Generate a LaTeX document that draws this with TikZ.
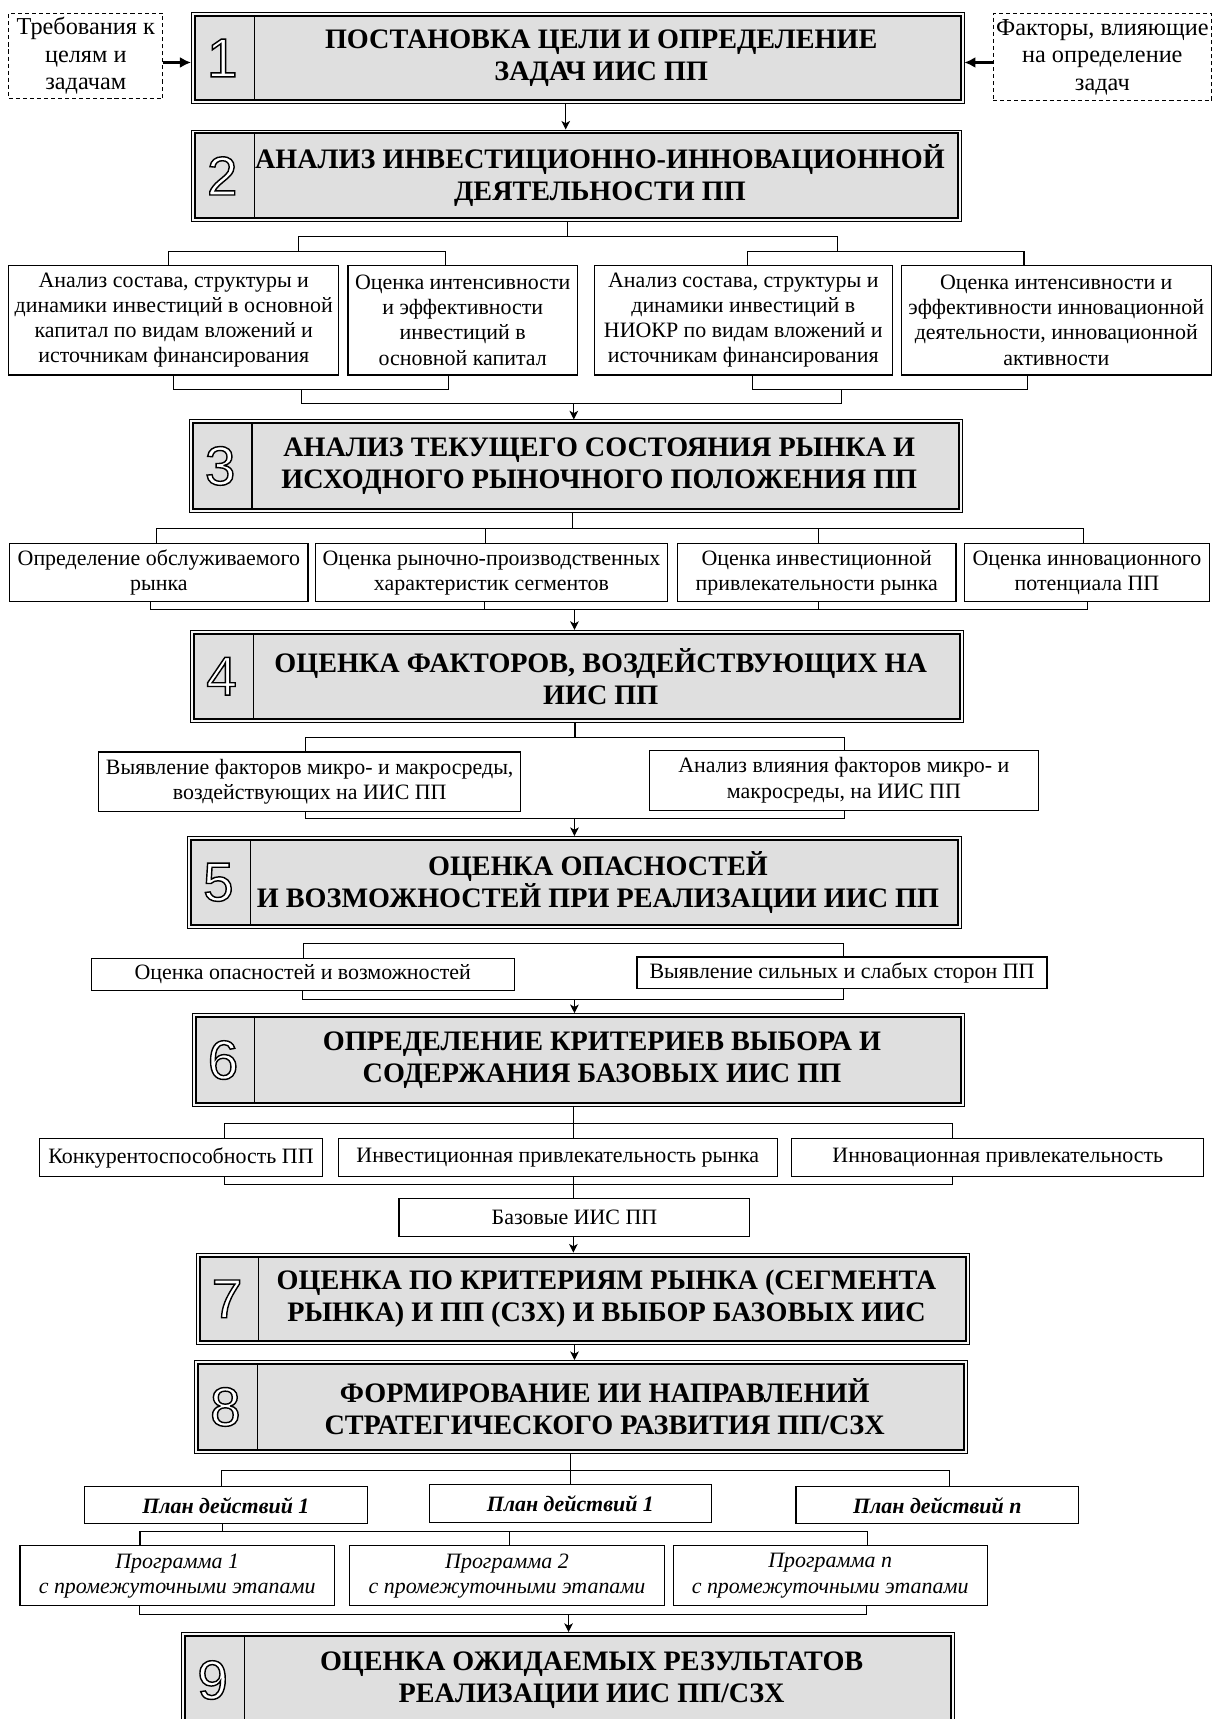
\documentclass[tikz,border=0pt]{standalone}
\usepackage{fontspec}
\setmainfont{Liberation Serif}
\newfontfamily\numfont{Liberation Sans}
\usetikzlibrary{arrows.meta}

\newcommand\outnum[1]{{\numfont\fontsize{35}{35}\selectfont\color{white}\special{pdf:literal direct 0 G 0.9 w 2 Tr}#1\special{pdf:literal direct 0 Tr}}}

\newcommand\bnode[6]{\node[#1, minimum width={(#5-#3)*0.7pt}, minimum height={(#6-#4)*0.7pt}] (#2) at ({(#3+#5)/2},{(#4+#6)/2})}

\newcommand\stage[7]{%
  \bnode{stagebox}{#1}{#2}{#3}{#4}{#5}{};
  \node[numlbl] (#1n) at ([xshift=20pt]#1.west) {\outnum{#6}};
  \node[ttl] (#1t) at ([xshift=15pt]#1.center) {#7};
}

\tikzset{
  conn/.style={line width=0.7pt},
  arr/.style={conn, -{Stealth[length=5.5pt,width=5.5pt,inset=1.5pt]}},
  sidearr/.style={line width=1.3pt, -{Latex[length=7pt,width=7pt]}},
  tbox/.style={draw, line width=0.75pt, fill=white, align=center, inner sep=0pt,
    font=\fontsize{14}{16.1}\selectfont},
  dbox/.style={tbox, dash pattern=on 2.6pt off 1.9pt, font=\fontsize{15.5}{17.6}\selectfont},
  stagebox/.style={draw, line width=0.6pt, fill=gray!6, inner sep=0pt,
    path picture={
      \filldraw[fill=gray!25, line width=1.3pt]
        ([shift={(2.2pt,2.2pt)}]path picture bounding box.south west) rectangle
        ([shift={(-2.2pt,-2.2pt)}]path picture bounding box.north east);
      \draw[line width=0.7pt]
        ([shift={(40pt,2.2pt)}]path picture bounding box.south west) --
        ([shift={(40pt,-2.2pt)}]path picture bounding box.north west);
    }},
  numlbl/.style={inner sep=0pt},
  ttl/.style={inner sep=0pt, align=center, font=\fontsize{18}{20.5}\selectfont\bfseries},
}

\begin{document}
\begin{tikzpicture}[x=0.7pt,y=-0.7pt]
\useasboundingbox (0,0) rectangle (1106,1568);
\clip (0,0) rectangle (1106,1568);

% ---------- stages ----------
\stage{S1}{174.6}{11.6}{879.3}{94.3}{1}{ПОСТАНОВКА ЦЕЛИ И ОПРЕДЕЛЕНИЕ\\ЗАДАЧ ИИС ПП}
\stage{S2}{174.6}{118.6}{876.9}{202.3}{2}{АНАЛИЗ ИНВЕСТИЦИОННО-ИННОВАЦИОННОЙ\\ДЕЯТЕЛЬНОСТИ ПП}
\stage{S3}{172.7}{383}{877.6}{467}{3}{АНАЛИЗ ТЕКУЩЕГО СОСТОЯНИЯ РЫНКА И\\ИСХОДНОГО РЫНОЧНОГО ПОЛОЖЕНИЯ ПП}
\stage{S4}{174}{575}{879}{658.6}{4}{ОЦЕНКА ФАКТОРОВ, ВОЗДЕЙСТВУЮЩИХ НА\\ИИС ПП}
\stage{S5}{171}{763}{877}{846.6}{5}{ОЦЕНКА ОПАСНОСТЕЙ\\И ВОЗМОЖНОСТЕЙ ПРИ РЕАЛИЗАЦИИ ИИС ПП}
\stage{S6}{175.3}{924.6}{880}{1009.3}{6}{ОПРЕДЕЛЕНИЕ КРИТЕРИЕВ ВЫБОРА И\\СОДЕРЖАНИЯ БАЗОВЫХ ИИС ПП}
\stage{S7}{179}{1143}{884.5}{1226.5}{7}{ОЦЕНКА ПО КРИТЕРИЯМ РЫНКА (СЕГМЕНТА\\РЫНКА) И ПП (СЗХ) И ВЫБОР БАЗОВЫХ ИИС}
\stage{S8}{177.4}{1241}{882.8}{1325.7}{8}{ФОРМИРОВАНИЕ ИИ НАПРАВЛЕНИЙ\\СТРАТЕГИЧЕСКОГО РАЗВИТИЯ ПП/СЗХ}
\stage{S9}{165.8}{1489}{870.6}{1576}{9}{ОЦЕНКА ОЖИДАЕМЫХ РЕЗУЛЬТАТОВ\\РЕАЛИЗАЦИИ ИИС ПП/СЗХ}

% ---------- side boxes ----------
\bnode{dbox}{L}{8}{12}{148.5}{90}{Требования к\\целям и\\задачам};
\bnode{dbox}{R}{906}{12}{1105}{92}{Факторы, влияющие\\на определение\\задач};

% ---------- row 2 ----------
\bnode{tbox}{A2}{8}{242}{309}{342}{Анализ состава, структуры и\\динамики инвестиций в основной\\капитал по видам вложений и\\источникам финансирования};
\bnode{tbox}{B2}{317.5}{242}{526.7}{342}{Оценка интенсивности\\и эффективности\\инвестиций в\\основной капитал};
\bnode{tbox}{C2}{542}{242}{814}{342}{Анализ состава, структуры и\\динамики инвестиций в\\НИОКР по видам вложений и\\источникам финансирования};
\bnode{tbox}{D2}{822}{242}{1105}{342}{Оценка интенсивности и\\эффективности инновационной\\деятельности, инновационной\\активности};

% ---------- row 3 ----------
\bnode{tbox}{A3}{8.8}{496}{281}{549}{Определение обслуживаемого\\рынка};
\bnode{tbox}{B3}{287.5}{496}{609}{549}{Оценка рыночно-производственных\\характеристик сегментов};
\bnode{tbox}{C3}{618}{496}{872}{549}{Оценка инвестиционной\\привлекательности рынка};
\bnode{tbox}{D3}{880}{496}{1103}{549}{Оценка инновационного\\потенциала ПП};

% ---------- row 4 ----------
\bnode{tbox}{A4}{90}{686}{475}{740}{Выявление факторов микро- и макросреды,\\воздействующих на ИИС ПП};
\bnode{tbox}{B4}{592.5}{684.5}{947}{739}{Анализ влияния факторов микро- и\\макросреды, на ИИС ПП};

% ---------- row 5 ----------
\bnode{tbox}{A5}{83.3}{874}{469}{903.5}{Оценка опасностей и возможностей};
\bnode{tbox}{B5}{581}{873}{955}{902}{Выявление сильных и слабых сторон ПП};

% ---------- row 6 ----------
\bnode{tbox}{A6}{36.3}{1038.7}{293.8}{1073}{Конкурентоспособность ПП};
\bnode{tbox}{B6}{308.6}{1038.7}{709}{1073}{Инвестиционная привлекательность рынка};
\bnode{tbox}{C6}{722.3}{1038.7}{1098}{1073}{Инновационная привлекательность};
\bnode{tbox}{Base}{364}{1093.5}{684}{1128}{Базовые ИИС ПП};

% ---------- row 8 ----------
\bnode{tbox}{P1}{77}{1356}{335}{1390}{\bfseries\itshape План действий 1};
\bnode{tbox}{P2}{391.5}{1354}{649}{1388.7}{\bfseries\itshape План действий 1};
\bnode{tbox}{Pn}{726}{1356}{984}{1390}{\bfseries\itshape План действий n};
\bnode{tbox}{G1}{18.3}{1410}{305}{1464.7}{\itshape Программа 1\\\itshape с промежуточными этапами};
\bnode{tbox}{G2}{319}{1410}{606}{1464.7}{\itshape Программа 2\\\itshape с промежуточными этапами};
\bnode{tbox}{Gn}{614}{1410}{900.5}{1464.7}{\itshape Программа n\\\itshape с промежуточными этапами};

% ---------- connectors ----------
\coordinate (ya) at (0,57);
\draw[sidearr] (L.east |- ya) -- (S1.west |- ya);
\draw[sidearr] (R.west |- ya) -- (S1.east |- ya);
\coordinate (g12) at (516,0);
\draw[arr] (S1.south -| g12) -- (S2.north -| g12);

% row 2 top
\coordinate (j2) at (518,216);
\coordinate (j2a) at (272,216);
\coordinate (j2b) at (764,216);
\coordinate (k2a) at (154,229);
\coordinate (k2b) at (406,229);
\coordinate (k2c) at (682,229);
\coordinate (k2d) at (934,229);
\draw[conn] (S2.south -| j2) -- (j2);
\draw[conn] (j2a |- k2a) -- (j2a) -- (j2b) -- (j2b |- k2c);
\draw[conn] (A2.north -| k2a) -- (k2a) -- (k2b) -- (B2.north -| k2b);
\draw[conn] (C2.north -| k2c) -- (k2c) -- (k2d) -- (D2.north -| k2d);
% row 2 bottom
\coordinate (m2a) at (158.6,355);
\coordinate (m2b) at (409,355);
\coordinate (m2c) at (686,355);
\coordinate (m2d) at (937,355);
\coordinate (n2a) at (275,368);
\coordinate (n2b) at (767.5,368);
\coordinate (n2m) at (523.4,368);
\draw[conn] (A2.south -| m2a) -- (m2a) -- (m2b) -- (B2.south -| m2b);
\draw[conn] (C2.south -| m2c) -- (m2c) -- (m2d) -- (D2.south -| m2d);
\draw[conn] (n2a |- m2a) -- (n2a) -- (n2b) -- (n2b |- m2c);
\draw[arr] (n2m) -- (S3.north -| n2m);

% row 3
\coordinate (t3a) at (143,482);
\coordinate (t3b) at (443,482);
\coordinate (t3c) at (746.5,482);
\coordinate (t3d) at (988.6,482);
\coordinate (t3m) at (522,482);
\draw[conn] (S3.south -| t3m) -- (t3m);
\draw[conn] (A3.north -| t3a) -- (t3a) -- (t3d) -- (D3.north -| t3d);
\draw[conn] (t3b) -- (B3.north -| t3b);
\draw[conn] (t3c) -- (C3.north -| t3c);
\coordinate (u3a) at (137.5,556);
\coordinate (u3b) at (441.6,556);
\coordinate (u3c) at (746.5,556);
\coordinate (u3d) at (992,556);
\coordinate (u3m) at (524,556);
\draw[conn] (A3.south -| u3a) -- (u3a) -- (u3d) -- (D3.south -| u3d);
\draw[conn] (B3.south -| u3b) -- (u3b);
\draw[conn] (C3.south -| u3c) -- (u3c);
\draw[arr] (u3m) -- (S4.north -| u3m);

% row 4
\coordinate (t4a) at (278.7,672.8);
\coordinate (t4b) at (770,672.8);
\coordinate (t4m) at (524.5,672.8);
\draw[conn] (S4.south -| t4m) -- (t4m);
\draw[conn] (A4.north -| t4a) -- (t4a) -- (t4b) -- (B4.north -| t4b);
\coordinate (u4a) at (278.7,747);
\coordinate (u4b) at (770,747);
\coordinate (u4m) at (524,747);
\draw[conn] (A4.south -| u4a) -- (u4a) -- (u4b) -- (B4.south -| u4b);
\draw[arr] (u4m) -- (S5.north -| u4m);

% row 5
\coordinate (t5a) at (277,861);
\coordinate (t5b) at (769,861);
\draw[conn] (A5.north -| t5a) -- (t5a) -- (t5b) -- (B5.north -| t5b);
\coordinate (u5a) at (276,911.7);
\coordinate (u5b) at (769,911.7);
\coordinate (u5m) at (524,911.7);
\draw[conn] (A5.south -| u5a) -- (u5a) -- (u5b) -- (B5.south -| u5b);
\draw[arr] (u5m) -- (S6.north -| u5m);

% row 6
\coordinate (t6a) at (204.7,1025);
\coordinate (t6b) at (868.8,1025);
\coordinate (t6m) at (523,1025);
\draw[conn] (S6.south -| t6m) -- (B6.north -| t6m);
\draw[conn] (A6.north -| t6a) -- (t6a) -- (t6b) -- (C6.north -| t6b);
\coordinate (u6a) at (204.7,1080.5);
\coordinate (u6b) at (868.8,1080.5);
\coordinate (u6m) at (523,1080.5);
\draw[conn] (A6.south -| u6a) -- (u6a) -- (u6b) -- (C6.south -| u6b);
\draw[conn] (B6.south -| u6m) -- (Base.north -| u6m);
\draw[arr] (Base.south -| u6m) -- (S7.north -| u6m);

% 7 -> 8
\coordinate (g78) at (524,0);
\draw[arr] (S7.south -| g78) -- (S8.north -| g78);

% row 8
\coordinate (t8a) at (202,1341.5);
\coordinate (t8b) at (866,1341.5);
\coordinate (t8m) at (520,1341.5);
\draw[conn] (S8.south -| t8m) -- (P2.north -| t8m);
\draw[conn] (P1.north -| t8a) -- (t8a) -- (t8b) -- (Pn.north -| t8b);
\coordinate (u8) at (203,1397);
\coordinate (v8a) at (127.7,1397);
\coordinate (v8b) at (465,1397);
\coordinate (v8c) at (791,1397);
\draw[conn] (P1.south -| u8) -- (u8);
\draw[conn] (G1.north -| v8a) -- (v8a) -- (v8c) -- (Gn.north -| v8c);
\draw[conn] (v8b) -- (G2.north -| v8b);
\coordinate (w8a) at (127,1473);
\coordinate (w8b) at (790,1473);
\coordinate (w8m) at (518.6,1473);
\draw[conn] (G1.south -| w8a) -- (w8a) -- (w8b) -- (Gn.south -| w8b);
\draw[arr] (w8m) -- (S9.north -| w8m);
\end{tikzpicture}
\end{document}
